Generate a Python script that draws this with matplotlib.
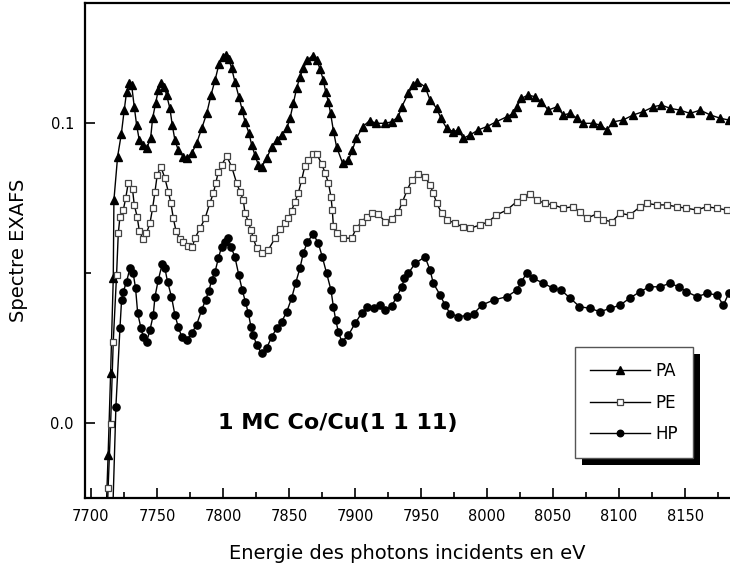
import matplotlib
matplotlib.use("Agg")
import matplotlib.pyplot as plt
from matplotlib.patches import Rectangle
from matplotlib.ticker import MultipleLocator

plt.rcParams['font.family'] = ['DejaVu Sans']

# ---------------- data ----------------
pa_x = [7711.5, 7713.0, 7714.9, 7716.9, 7717.4, 7720.2, 7723.0, 7725.2, 7727.0, 7729.0,
        7730.8, 7732.8, 7734.6, 7736.6, 7739.6, 7742.2, 7745.2, 7746.7, 7749.0, 7751.0,
        7753.0, 7755.5, 7757.3, 7759.8, 7761.6, 7763.6, 7766.1, 7769.9, 7772.5, 7776.3,
        7780.0, 7783.9, 7787.7, 7790.9, 7794.0, 7797.0, 7800.0, 7802.0, 7804.5, 7806.6,
        7809.0, 7812.0, 7814.6, 7816.7, 7819.7, 7821.7, 7824.2, 7826.8, 7829.3, 7833.1,
        7836.9, 7840.7, 7844.5, 7848.3, 7850.8, 7853.3, 7855.8, 7858.3, 7860.8, 7864.0,
        7868.0, 7871.0, 7873.5, 7876.0, 7877.8, 7879.8, 7881.5, 7883.6, 7886.0, 7890.6,
        7895.0, 7898.0, 7901.0, 7906.0, 7911.0, 7916.0, 7922.7, 7927.8, 7932.8, 7935.4,
        7940.4, 7944.2, 7947.2, 7953.0, 7956.8, 7961.9, 7965.0, 7969.5, 7974.5, 7978.3,
        7982.0, 7987.0, 7993.4, 7999.8, 8007.0, 8015.0, 8020.0, 8022.5, 8026.0, 8031.0,
        8036.0, 8041.0, 8046.4, 8052.8, 8057.8, 8063.0, 8068.0, 8073.0, 8080.5, 8085.6,
        8090.7, 8095.7, 8103.0, 8110.8, 8118.4, 8126.0, 8132.0, 8138.6, 8146.0, 8153.8,
        8161.4, 8169.0, 8176.5, 8183.0]
pa_y = [-0.030, -0.0107, 0.0166, 0.0482, 0.0743, 0.0888, 0.0963, 0.1043, 0.1104, 0.1134,
        0.1127, 0.1054, 0.0993, 0.0943, 0.0927, 0.0916, 0.0949, 0.1016, 0.1066, 0.1110,
        0.1134, 0.1121, 0.1093, 0.1049, 0.0993, 0.0943, 0.0910, 0.0888, 0.0882, 0.0899,
        0.0932, 0.0982, 0.1032, 0.1093, 0.1143, 0.1197, 0.1220, 0.1227, 0.1212, 0.1182,
        0.1138, 0.1088, 0.1043, 0.1004, 0.0966, 0.0927, 0.0893, 0.0860, 0.0854, 0.0882,
        0.0921, 0.0943, 0.0960, 0.0982, 0.1016, 0.1066, 0.1116, 0.1154, 0.1182, 0.1210,
        0.1225, 0.1210, 0.1180, 0.1143, 0.1104, 0.1071, 0.1032, 0.0975, 0.0921, 0.0866,
        0.0877, 0.0910, 0.0949, 0.0988, 0.1008, 0.0999, 0.0999, 0.1004, 0.1021, 0.1054,
        0.1099, 0.1127, 0.1138, 0.1121, 0.1077, 0.1049, 0.1016, 0.0982, 0.0971, 0.0977,
        0.0949, 0.0960, 0.0977, 0.0988, 0.1004, 0.1021, 0.1032, 0.1054, 0.1082, 0.1093,
        0.1088, 0.1071, 0.1043, 0.1054, 0.1027, 0.1032, 0.1016, 0.0999, 0.0999, 0.0993,
        0.0977, 0.1004, 0.1010, 0.1027, 0.1038, 0.1054, 0.1060, 0.1049, 0.1043, 0.1032,
        0.1043, 0.1027, 0.1016, 0.1010]

pe_x = [7711.5, 7713.0, 7714.9, 7716.9, 7719.4, 7720.7, 7722.0, 7724.5, 7726.3, 7728.3,
        7731.5, 7732.8, 7735.0, 7736.6, 7739.6, 7742.0, 7744.7, 7746.7, 7748.5, 7750.2,
        7753.0, 7756.0, 7758.6, 7760.6, 7762.4, 7764.4, 7767.4, 7770.0, 7773.7, 7776.8,
        7778.8, 7782.6, 7786.4, 7790.0, 7792.7, 7794.5, 7796.5, 7799.0, 7802.8, 7806.6,
        7810.4, 7812.9, 7815.4, 7816.7, 7819.2, 7821.2, 7823.0, 7825.5, 7829.3, 7834.3,
        7839.4, 7843.0, 7847.0, 7849.5, 7852.0, 7854.5, 7857.0, 7859.6, 7862.0, 7864.6,
        7868.4, 7871.0, 7874.8, 7877.3, 7879.8, 7881.8, 7882.8, 7883.6, 7886.0, 7891.0,
        7897.4, 7901.0, 7905.0, 7908.9, 7912.6, 7917.7, 7922.7, 7927.8, 7932.8, 7936.0,
        7939.6, 7943.0, 7948.0, 7953.0, 7956.8, 7959.3, 7961.9, 7965.7, 7969.5, 7975.8,
        7982.0, 7987.0, 7994.7, 8001.0, 8007.0, 8015.0, 8022.5, 8027.5, 8032.6, 8037.7,
        8044.0, 8050.0, 8057.8, 8065.0, 8070.4, 8075.5, 8083.0, 8088.0, 8094.5, 8100.8,
        8108.0, 8116.0, 8121.0, 8128.5, 8136.0, 8143.7, 8151.0, 8158.9, 8166.4, 8174.0,
        8181.5]
pe_y = [-0.040, -0.0218, -0.0003, 0.0271, 0.0493, 0.0632, 0.0688, 0.0710, 0.0749, 0.0801,
        0.0779, 0.0727, 0.0688, 0.0641, 0.0612, 0.0632, 0.0666, 0.0716, 0.0771, 0.0827,
        0.0854, 0.0816, 0.0771, 0.0732, 0.0682, 0.0641, 0.0612, 0.0604, 0.0590, 0.0588,
        0.0616, 0.0649, 0.0682, 0.0732, 0.0766, 0.0799, 0.0838, 0.0860, 0.0890, 0.0854,
        0.0799, 0.0771, 0.0743, 0.0699, 0.0671, 0.0643, 0.0616, 0.0582, 0.0566, 0.0577,
        0.0616, 0.0646, 0.0666, 0.0682, 0.0708, 0.0738, 0.0766, 0.0810, 0.0857, 0.0877,
        0.0897, 0.0897, 0.0863, 0.0834, 0.0801, 0.0754, 0.0710, 0.0657, 0.0632, 0.0616,
        0.0616, 0.0649, 0.0671, 0.0688, 0.0701, 0.0697, 0.0671, 0.0679, 0.0704, 0.0738,
        0.0777, 0.0810, 0.0830, 0.0821, 0.0793, 0.0766, 0.0732, 0.0699, 0.0677, 0.0666,
        0.0652, 0.0649, 0.0660, 0.0671, 0.0693, 0.0710, 0.0738, 0.0754, 0.0763, 0.0743,
        0.0732, 0.0727, 0.0716, 0.0721, 0.0704, 0.0682, 0.0697, 0.0677, 0.0671, 0.0699,
        0.0693, 0.0721, 0.0732, 0.0727, 0.0727, 0.0721, 0.0716, 0.0710, 0.0721, 0.0716,
        0.0710]

hp_x = [7716.5, 7718.9, 7722.0, 7723.2, 7724.5, 7727.0, 7729.5, 7732.0, 7733.8, 7735.4,
        7737.9, 7739.6, 7742.2, 7744.7, 7747.2, 7748.5, 7751.0, 7754.0, 7756.0, 7758.0,
        7761.0, 7763.6, 7766.1, 7768.7, 7772.5, 7776.3, 7780.0, 7783.9, 7786.8, 7789.4,
        7791.4, 7794.0, 7796.5, 7799.0, 7801.5, 7804.0, 7806.0, 7809.0, 7812.0, 7814.6,
        7817.0, 7819.2, 7821.2, 7823.0, 7825.5, 7829.3, 7833.0, 7837.0, 7840.7, 7844.5,
        7848.3, 7852.0, 7855.0, 7858.3, 7860.8, 7864.0, 7868.4, 7872.2, 7875.2, 7878.5,
        7881.8, 7883.6, 7885.4, 7887.4, 7890.0, 7895.0, 7900.0, 7905.0, 7908.9, 7914.0,
        7919.0, 7922.7, 7927.8, 7931.6, 7935.4, 7937.4, 7940.4, 7945.5, 7953.0, 7956.8,
        7959.3, 7964.4, 7968.2, 7972.0, 7978.0, 7985.0, 7990.0, 7996.0, 8005.0, 8015.0,
        8022.5, 8026.0, 8030.0, 8035.0, 8042.7, 8050.0, 8056.0, 8063.0, 8070.0, 8078.0,
        8085.6, 8093.0, 8100.8, 8108.0, 8116.0, 8123.0, 8131.0, 8138.6, 8145.0, 8151.0,
        8159.0, 8166.4, 8174.0, 8179.0, 8183.0]
hp_y = [-0.030, 0.0054, 0.0318, 0.0410, 0.0438, 0.0471, 0.0516, 0.0499, 0.0449, 0.0366,
        0.0316, 0.0288, 0.0271, 0.0310, 0.0360, 0.0421, 0.0477, 0.0530, 0.0516, 0.0471,
        0.0421, 0.0360, 0.0321, 0.0288, 0.0277, 0.0299, 0.0327, 0.0377, 0.0410, 0.0441,
        0.0477, 0.0504, 0.0549, 0.0588, 0.0604, 0.0616, 0.0588, 0.0554, 0.0493, 0.0443,
        0.0404, 0.0366, 0.0321, 0.0293, 0.0260, 0.0232, 0.0249, 0.0288, 0.0316, 0.0338,
        0.0371, 0.0416, 0.0466, 0.0516, 0.0566, 0.0604, 0.0630, 0.0599, 0.0554, 0.0499,
        0.0443, 0.0388, 0.0343, 0.0304, 0.0271, 0.0293, 0.0332, 0.0366, 0.0388, 0.0382,
        0.0393, 0.0377, 0.0390, 0.0421, 0.0454, 0.0482, 0.0499, 0.0532, 0.0554, 0.0510,
        0.0466, 0.0427, 0.0393, 0.0365, 0.0355, 0.0358, 0.0365, 0.0393, 0.0410, 0.0421,
        0.0443, 0.0471, 0.0499, 0.0482, 0.0466, 0.0449, 0.0443, 0.0416, 0.0388, 0.0382,
        0.0371, 0.0382, 0.0393, 0.0416, 0.0438, 0.0454, 0.0454, 0.0466, 0.0454, 0.0438,
        0.0421, 0.0432, 0.0427, 0.0393, 0.0432]

series_names = ["PA", "PE", "HP"]
x_ticks = [7700, 7750, 7800, 7850, 7900, 7950, 8000, 8050, 8100, 8150]
y_ticks = [0.0, 0.1]
y_ticklabels = ["0.0", "0.1"]
annotation = "1 MC Co/Cu(1 1 11)"
xlabel = "Energie des photons incidents en eV"
ylabel = "Spectre EXAFS"

# ---------------- figure ----------------
fig = plt.figure(figsize=(7.30, 5.69), dpi=100)
ax = fig.add_axes([85 / 730, 1 - 498 / 569, 645 / 730, 495 / 569])

ax.plot(pa_x, pa_y, color='black', lw=1.0, marker='^', ms=6, mfc='black',
        mec='black', label=series_names[0])
ax.plot(pe_x, pe_y, color='black', lw=1.0, marker='s', ms=4.5, mfc='white',
        mec='#444444', mew=0.9, label=series_names[1])
ax.plot(hp_x, hp_y, color='black', lw=1.0, marker='o', ms=5.2, mfc='black',
        mec='black', label=series_names[2])

ax.set_xlim(7695.5, 8184)
ax.set_ylim(-0.025, 0.14)
ax.set_xticks(x_ticks)
ax.xaxis.set_minor_locator(MultipleLocator(25))
ax.set_yticks(y_ticks)
ax.set_yticklabels(y_ticklabels)
ax.yaxis.set_minor_locator(MultipleLocator(0.05))

ax.tick_params(which='both', direction='in', top=False, right=False,
               width=1.2, labelsize=10.5, colors='black')
ax.tick_params(which='major', length=7, pad=8)
ax.tick_params(which='minor', length=4.5)

for side in ['left', 'bottom', 'top']:
    ax.spines[side].set_linewidth(1.6)
ax.spines['right'].set_visible(False)

ax.set_xlabel(xlabel, fontsize=14, labelpad=14)
ax.set_ylabel(ylabel, fontsize=14, labelpad=16)

ax.text(7796, 0.0, annotation, fontsize=16, fontweight='bold',
        ha='left', va='center')

leg = ax.legend(loc='upper left', bbox_to_anchor=(0.7597, 0.3044),
                borderaxespad=0, fancybox=False, frameon=True,
                edgecolor='#555555', framealpha=1, fontsize=12,
                handlelength=3.6, handletextpad=0.3, labelspacing=0.8,
                borderpad=0.9, markerscale=0.9)
leg.get_frame().set_linewidth(1.0)
leg.set_zorder(10)

fig.canvas.draw()
bb = leg.get_frame().get_window_extent()
inv = ax.transAxes.inverted()
(x0, y0) = inv.transform((bb.x0 + 7, bb.y0 - 7))
(x1, y1) = inv.transform((bb.x1 + 7, bb.y1 - 7))
shadow = Rectangle((x0, y0), x1 - x0, y1 - y0, transform=ax.transAxes,
                   facecolor='black', edgecolor='none', zorder=9, clip_on=False)
ax.add_patch(shadow)

fig.savefig("out.png", dpi=100)
